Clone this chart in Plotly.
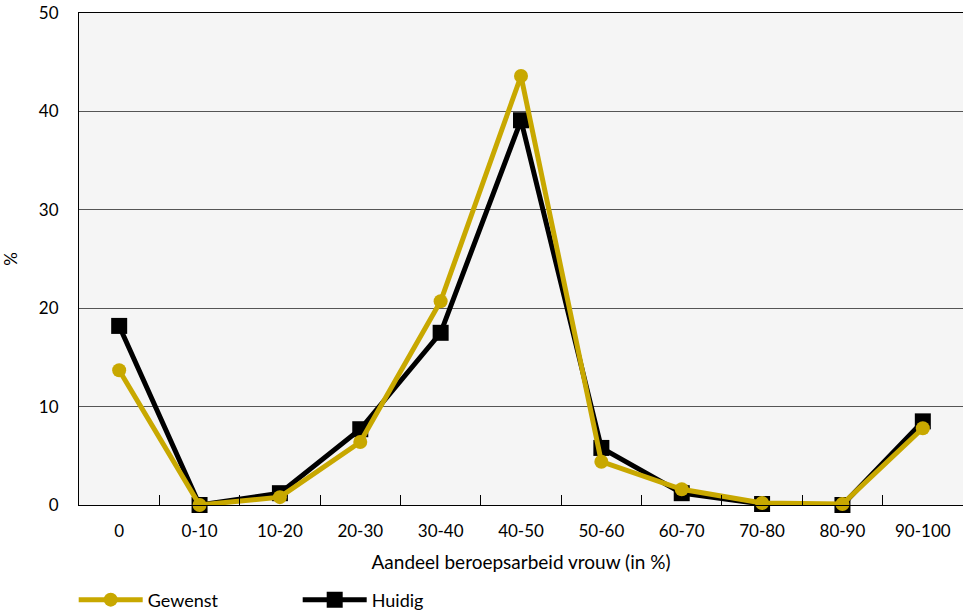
import plotly.graph_objects as go

categories = ["0", "0-10", "10-20", "20-30", "30-40", "40-50", "50-60", "60-70", "70-80", "80-90", "90-100"]
gewenst = [13.7, 0.0, 0.8, 6.4, 20.7, 43.6, 4.4, 1.6, 0.2, 0.1, 7.8]
huidig = [18.2, 0.0, 1.2, 7.7, 17.5, 39.1, 5.8, 1.2, 0.1, 0.0, 8.5]

gold = "#c8a800"
font = "Lato"

fig = go.Figure()
fig.add_trace(go.Scatter(
    x=categories, y=huidig, name="Huidig", mode="lines+markers",
    line=dict(color="black", width=5),
    marker=dict(symbol="square", size=16, color="black"),
    cliponaxis=False,
))
fig.add_trace(go.Scatter(
    x=categories, y=gewenst, name="Gewenst", mode="lines+markers",
    line=dict(color=gold, width=5),
    marker=dict(symbol="circle", size=14, color=gold),
    cliponaxis=False,
))

fig.update_layout(
    width=964, height=610,
    margin=dict(l=79, r=1, t=13, b=105, autoexpand=False),
    paper_bgcolor="white",
    plot_bgcolor="#f5f5f5",
    font=dict(family=font, size=17, color="black"),
    showlegend=True,
    legend=dict(
        orientation="h", x=-0.006, xanchor="left", y=-0.193, yanchor="middle",
        traceorder="reversed", itemwidth=64, font=dict(size=18),
        entrywidth=145, entrywidthmode="pixels",
        bgcolor="rgba(0,0,0,0)",
    ),
    xaxis=dict(
        type="category", range=[-0.5, 10.5], automargin=False,
        showline=True, linecolor="black", linewidth=1, mirror=True,
        ticks="inside", tickson="boundaries", ticklen=10, tickcolor="black",
        showgrid=False, ticklabelstandoff=11,
        title=dict(text="Aandeel beroepsarbeid vrouw (in %)", font=dict(size=19), standoff=15),
        tickfont=dict(size=17),
    ),
    yaxis=dict(
        range=[0, 50], tickvals=[0, 10, 20, 30, 40, 50], automargin=False,
        showline=True, linecolor="black", linewidth=1,
        showgrid=True, gridcolor="#555555", gridwidth=1,
        zeroline=False, ticks="", ticklabelstandoff=16,
        title=dict(text="%", font=dict(size=17), standoff=30),
        tickfont=dict(size=17),
    ),
)

fig.write_html("out.html", post_script="document.body.style.margin='0px';",
               config={"displayModeBar": False})
